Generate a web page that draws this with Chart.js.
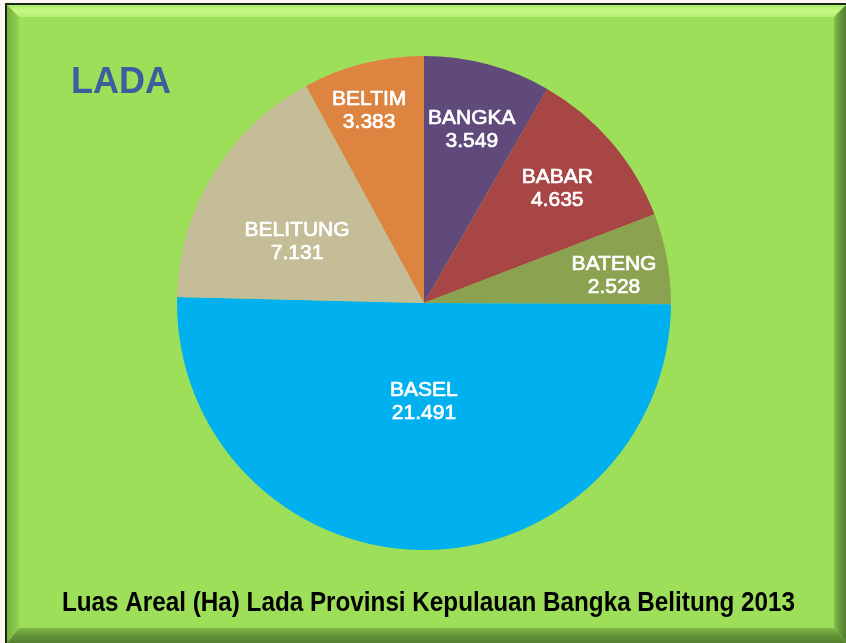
<!DOCTYPE html>
<html>
<head>
<meta charset="utf-8">
<script src="https://cdn.jsdelivr.net/npm/chart.js@4.4.1/dist/chart.umd.min.js"></script>
<style>
html,body{margin:0;padding:0;background:#fdf8f4;}
canvas{display:block;}
</style>
</head>
<body>
<canvas id="c" width="846" height="643"></canvas>
<script>
const categories = ["BANGKA", "BABAR", "BATENG", "BASEL", "BELITUNG", "BELTIM"];
const values = [3549, 4635, 2528, 21491, 7131, 3383];
const valueLabels = ["3.549", "4.635", "2.528", "21.491", "7.131", "3.383"];
const sliceColors = ["#604A7B", "#A84645", "#8BA350", "#00B0EF", "#C4BD97", "#DD8441"];
const chartTitle = "LADA";
const caption = "Luas Areal (Ha) Lada Provinsi Kepulauan Bangka Belitung 2013";

// data-label placement: fraction of radius and angular nudge (degrees)
const labelRadius = [0.727, 0.71, 0.777, 0.40, 0.571, 0.808];
const labelAngleNudge = [0.5, 0, 2.3, -0.8, -5.6, -1.7];

const framePlugin = {
  id: 'frame',
  beforeDraw(chart) {
    const ctx = chart.ctx;
    const W = chart.width, H = chart.height;
    ctx.save();
    ctx.fillStyle = '#fbf6f2';
    ctx.fillRect(0, 0, W, H);
    ctx.fillStyle = '#1a2a10';
    ctx.fillRect(5, 3, W - 5, H - 3);
    const x0 = 7, y0 = 5, x1 = W, y1 = H;
    const b = 12;
    ctx.fillStyle = '#9EDF5A';
    ctx.fillRect(x0, y0, x1 - x0, y1 - y0);
    let g = ctx.createLinearGradient(0, y0, 0, y0 + b);
    g.addColorStop(0, '#a8e868'); g.addColorStop(0.5, '#c8f884'); g.addColorStop(1, '#b4ee72');
    ctx.fillStyle = g;
    ctx.beginPath(); ctx.moveTo(x0, y0); ctx.lineTo(x1, y0); ctx.lineTo(x1 - b, y0 + b); ctx.lineTo(x0 + b, y0 + b); ctx.closePath(); ctx.fill();
    g = ctx.createLinearGradient(x0, 0, x0 + b, 0);
    g.addColorStop(0, '#76b244'); g.addColorStop(1, '#92d254');
    ctx.fillStyle = g;
    ctx.beginPath(); ctx.moveTo(x0, y0); ctx.lineTo(x0 + b, y0 + b); ctx.lineTo(x0 + b, y1 - b - 3); ctx.lineTo(x0, y1); ctx.closePath(); ctx.fill();
    g = ctx.createLinearGradient(x1 - b, 0, x1, 0);
    g.addColorStop(0, '#86c04a'); g.addColorStop(0.5, '#66983a'); g.addColorStop(1, '#557f30');
    ctx.fillStyle = g;
    ctx.beginPath(); ctx.moveTo(x1, y0); ctx.lineTo(x1, y1); ctx.lineTo(x1 - b, y1 - b - 3); ctx.lineTo(x1 - b, y0 + b); ctx.closePath(); ctx.fill();
    const bb = 15;
    g = ctx.createLinearGradient(0, y1 - bb, 0, y1);
    g.addColorStop(0, '#7fb848'); g.addColorStop(0.5, '#639537'); g.addColorStop(1, '#557f30');
    ctx.fillStyle = g;
    ctx.beginPath(); ctx.moveTo(x0, y1); ctx.lineTo(x1, y1); ctx.lineTo(x1 - b, y1 - bb); ctx.lineTo(x0 + b, y1 - bb); ctx.closePath(); ctx.fill();
    ctx.restore();
  },
  afterDraw(chart) {
    const ctx = chart.ctx;
    ctx.save();
    ctx.fillStyle = '#3B5E9E';
    ctx.font = 'bold 36px "Liberation Sans", Arial, sans-serif';
    ctx.textBaseline = 'alphabetic';
    ctx.textAlign = 'left';
    ctx.fillText(chartTitle, 71, 93);
    ctx.fillStyle = '#000';
    ctx.font = 'bold 28px "Liberation Sans Narrow", "Liberation Sans", Arial, sans-serif';
    const w = ctx.measureText(caption).width;
    const target = 733;
    ctx.translate(62, 611);
    ctx.scale(target / w, 1);
    ctx.fillText(caption, 0, 0);
    ctx.restore();
  }
};

const labelPlugin = {
  id: 'sliceLabels',
  afterDatasetsDraw(chart) {
    const ctx = chart.ctx;
    const meta = chart.getDatasetMeta(0);
    ctx.save();
    ctx.fillStyle = '#ffffff';
    ctx.strokeStyle = '#ffffff';
    ctx.lineWidth = 0.7;
    ctx.lineJoin = 'round';
    ctx.font = '21px "Liberation Sans", Arial, sans-serif';
    ctx.textAlign = 'center';
    ctx.textBaseline = 'middle';
    meta.data.forEach((arc, i) => {
      const p = arc.getProps(['x', 'y', 'startAngle', 'endAngle', 'outerRadius'], true);
      const mid = (p.startAngle + p.endAngle) / 2 + labelAngleNudge[i] * Math.PI / 180;
      const r = p.outerRadius * labelRadius[i];
      const cx = p.x + Math.cos(mid) * r;
      const cy = p.y + Math.sin(mid) * r;
      [[categories[i], cy - 11.5], [valueLabels[i], cy + 11.5]].forEach(([t, y]) => {
        ctx.strokeText(t, cx, y);
        ctx.fillText(t, cx, y);
      });
    });
    ctx.restore();
  }
};

new Chart(document.getElementById('c'), {
  type: 'pie',
  data: {
    labels: categories,
    datasets: [{
      data: values,
      backgroundColor: sliceColors,
      borderWidth: 0
    }]
  },
  options: {
    responsive: false,
    animation: false,
    layout: { padding: { top: 56, bottom: 93, left: 177, right: 175 } },
    plugins: {
      legend: { display: false },
      tooltip: { enabled: false },
      title: { display: false }
    }
  },
  plugins: [framePlugin, labelPlugin]
});
</script>
</body>
</html>
